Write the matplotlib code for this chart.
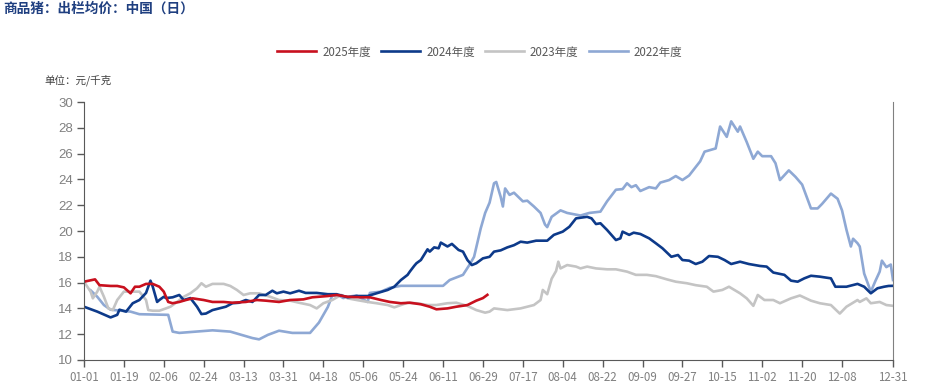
import matplotlib
matplotlib.use("Agg")
import matplotlib.pyplot as plt

plt.rcParams['font.family'] = ['Noto Sans CJK SC', 'DejaVu Sans']

# day index in the (leap) year, 0 = 01-01
day_2022 = [3, 6, 9, 12, 21, 25, 38, 40, 43, 58, 66, 76, 79, 83, 88, 94, 102, 106, 110, 112,
            115, 117, 119, 123, 128, 129, 134, 138, 143, 156, 162, 165, 168, 171, 174, 176, 179,
            181, 183, 185, 186, 188, 189, 190, 192, 194, 198, 200, 203, 206, 208, 209, 211, 215,
            218, 224, 228, 233, 236, 240, 243, 245, 247, 249, 251, 255, 258, 260, 264, 267, 270,
            273, 278, 280, 285, 287, 290, 292, 295, 296, 299, 302, 304, 306, 310, 312, 314, 318,
            321, 324, 328, 331, 333, 337, 340, 342, 344, 346, 347, 349, 350, 352, 355, 357, 359,
            360, 362, 364, 365]
val_2022 = [15.4, 14.9, 14.26, 13.9, 13.75, 13.55, 13.5, 12.2, 12.1, 12.3, 12.2, 11.7, 11.6, 11.95,
            12.27, 12.1, 12.1, 12.9, 14.1, 15.0, 15.0, 14.8, 14.9, 15.0, 14.5, 15.2, 15.3, 15.6,
            15.75, 15.75, 15.75, 16.2, 16.4, 16.6, 17.4, 18.0, 20.2, 21.4, 22.2, 23.7, 23.8, 22.65,
            21.9, 23.3, 22.8, 22.97, 22.3, 22.35, 21.9, 21.4, 20.5, 20.3, 21.1, 21.6, 21.4, 21.2,
            21.4, 21.5, 22.3, 23.2, 23.25, 23.7, 23.4, 23.55, 23.1, 23.4, 23.3, 23.75, 23.95, 24.26,
            23.95, 24.3, 25.4, 26.15, 26.4, 28.1, 27.3, 28.5, 27.7, 28.1, 26.9, 25.6, 26.15, 25.8,
            25.8, 25.25, 23.95, 24.7, 24.2, 23.6, 21.75, 21.75, 22.1, 22.9, 22.5, 21.6, 20.1, 18.8,
            19.4, 19.05, 18.8, 16.7, 15.3, 16.1, 16.85, 17.7, 17.2, 17.4, 16.2]

day_2023 = [0, 3, 4, 6, 7, 9, 11, 13, 15, 18, 22, 25, 28, 29, 31, 34, 37, 39, 42, 45, 48, 51, 53,
            55, 58, 63, 66, 69, 72, 75, 79, 84, 88, 93, 97, 102, 105, 108, 112, 116, 119, 123, 128,
            132, 137, 140, 143, 146, 150, 155, 159, 164, 168, 173, 177, 181, 183, 185, 191, 197,
            203, 206, 207, 209, 211, 213, 214, 215, 218, 222, 224, 227, 231, 236, 240, 245, 249,
            254, 258, 263, 267, 272, 276, 281, 284, 288, 291, 296, 299, 302, 304, 307, 311, 314,
            319, 323, 328, 332, 337, 341, 344, 349, 350, 353, 355, 359, 362, 365]
val_2023 = [16.07, 15.3, 14.78, 15.3, 15.68, 14.9, 14.0, 13.87, 14.65, 15.3, 15.3, 15.3, 14.65,
            13.87, 13.82, 13.82, 14.0, 14.13, 14.5, 14.9, 15.17, 15.56, 15.95, 15.68, 15.9, 15.9,
            15.74, 15.43, 15.04, 15.17, 15.17, 14.9, 14.65, 14.6, 14.44, 14.26, 14.0, 14.4, 14.65,
            15.04, 14.78, 14.65, 14.5, 14.4, 14.26, 14.08, 14.26, 14.44, 14.4, 14.26, 14.26, 14.4,
            14.44, 14.19, 13.87, 13.67, 13.75, 14.0, 13.87, 14.0, 14.26, 14.65, 15.43, 15.1, 16.3,
            16.9, 17.62, 17.1, 17.36, 17.24, 17.1, 17.24, 17.1, 17.03, 17.03, 16.85, 16.6, 16.6,
            16.5, 16.25, 16.07, 15.95, 15.8, 15.68, 15.3, 15.43, 15.68, 15.17, 14.78, 14.2, 15.04,
            14.65, 14.65, 14.4, 14.78, 15.0, 14.6, 14.4, 14.26, 13.6, 14.13, 14.65, 14.5, 14.78,
            14.4, 14.5, 14.26, 14.2]

day_2024 = [0, 6, 12, 15, 16, 19, 22, 25, 28, 30, 31, 33, 34, 36, 37, 40, 43, 45, 48, 51, 53, 55,
            58, 61, 64, 67, 70, 73, 76, 79, 82, 85, 87, 90, 93, 97, 100, 105, 110, 114, 119, 123,
            128, 132, 137, 140, 143, 146, 147, 149, 150, 152, 155, 156, 158, 160, 161, 164, 166,
            169, 171, 173, 175, 177, 180, 183, 185, 188, 191, 194, 197, 200, 204, 209, 212, 216,
            219, 222, 227, 229, 231, 233, 236, 240, 242, 243, 246, 248, 251, 255, 258, 261, 265,
            268, 270, 273, 276, 279, 282, 286, 289, 292, 296, 300, 305, 308, 311, 316, 319, 322,
            325, 328, 332, 337, 339, 344, 349, 352, 355, 358, 361, 363, 365]
val_2024 = [14.13, 13.75, 13.3, 13.5, 13.9, 13.75, 14.4, 14.65, 15.2, 16.15, 15.7, 14.5, 14.65,
            14.9, 14.8, 14.86, 15.04, 14.65, 14.8, 14.13, 13.56, 13.6, 13.87, 14.0, 14.13, 14.4,
            14.44, 14.65, 14.5, 15.04, 15.04, 15.37, 15.17, 15.3, 15.17, 15.37, 15.2, 15.2, 15.1,
            15.1, 14.86, 14.96, 14.96, 15.17, 15.43, 15.68, 16.2, 16.6, 16.85, 17.3, 17.5, 17.75,
            18.58, 18.4, 18.73, 18.66, 19.1, 18.8, 19.0, 18.53, 18.4, 17.75, 17.36, 17.5, 17.88,
            18.0, 18.4, 18.5, 18.73, 18.9, 19.17, 19.1, 19.25, 19.25, 19.7, 19.95, 20.33, 20.98,
            21.1, 20.98, 20.54, 20.6, 20.08, 19.3, 19.43, 19.95, 19.7, 19.87, 19.77, 19.43, 19.05,
            18.66, 18.0, 18.14, 17.75, 17.7, 17.44, 17.62, 18.06, 18.0, 17.75, 17.44, 17.62, 17.44,
            17.29, 17.24, 16.78, 16.6, 16.15, 16.07, 16.33, 16.53, 16.46, 16.33, 15.68, 15.68,
            15.9, 15.68, 15.17, 15.56, 15.68, 15.74, 15.75]

day_2025 = [0, 5, 7, 12, 15, 18, 21, 23, 25, 28, 31, 34, 36, 38, 40, 43, 46, 49, 54, 58, 63, 67,
            73, 78, 82, 88, 93, 99, 103, 110, 114, 119, 125, 129, 134, 138, 143, 147, 152, 156,
            159, 164, 168, 173, 177, 180, 182]
val_2025 = [16.07, 16.25, 15.8, 15.74, 15.74, 15.63, 15.17, 15.68, 15.68, 15.9, 15.9, 15.68, 15.3,
            14.5, 14.4, 14.5, 14.65, 14.78, 14.65, 14.5, 14.5, 14.44, 14.5, 14.65, 14.6, 14.5,
            14.65, 14.7, 14.86, 14.96, 15.04, 14.9, 14.86, 14.86, 14.65, 14.5, 14.4, 14.44, 14.32,
            14.13, 13.93, 14.0, 14.13, 14.26, 14.6, 14.8, 15.05]

tick_days = [0, 18, 36, 54, 72, 90, 108, 126, 144, 162, 180, 198, 216, 234, 252, 270, 288, 306,
             324, 342, 365]
tick_labels = ["01-01", "01-19", "02-06", "02-24", "03-13", "03-31", "04-18", "05-06", "05-24",
               "06-11", "06-29", "07-17", "08-04", "08-22", "09-09", "09-27", "10-15", "11-02",
               "11-20", "12-08", "12-31"]

fig = plt.figure(figsize=(9.3, 3.91), dpi=100)
ax = fig.add_axes([0.0903, 0.0793, 0.8699, 0.6598])

lw = 1.9
l22, = ax.plot(day_2022, val_2022, color="#8EA8D4", lw=lw, label="2022年度")
l23, = ax.plot(day_2023, val_2023, color="#C4C4C4", lw=lw, label="2023年度")
l24, = ax.plot(day_2024, val_2024, color="#0D3A8A", lw=lw, label="2024年度")
l25, = ax.plot(day_2025, val_2025, color="#C8101E", lw=lw, label="2025年度")

ax.set_xlim(0, 365)
ax.set_ylim(10, 30)
ax.set_yticks(range(10, 31, 2))
ax.set_xticks(tick_days)
ax.set_xticklabels(tick_labels, fontsize=8.3, color="#808080")
for t in ax.get_yticklabels():
    t.set_fontfamily("Liberation Sans")
    t.set_fontsize(9.5)
    t.set_color("#808080")
ax.tick_params(axis="both", direction="out", length=5, width=1, color="#595959", pad=3)

ax.spines["top"].set_visible(False)
ax.spines["left"].set_color("#595959")
ax.spines["bottom"].set_color("#595959")
ax.spines["right"].set_color("#808080")

fig.text(0.004, 0.978, "商品猪：出栏均价：中国（日）", fontsize=9.8, fontweight="bold",
         color="#1F3F80", ha="left", va="center")
fig.text(0.048, 0.795, "单位：元/千克", fontsize=7.6, color="#404040", ha="left", va="center")

fig.legend(handles=[l25, l24, l23, l22], loc="center", bbox_to_anchor=(0.516, 0.867), ncol=4,
           frameon=False, fontsize=8.3, labelcolor="#595959", handlelength=3.4,
           handletextpad=0.5, columnspacing=0.9)

fig.savefig("out.png", dpi=100, facecolor="white")
